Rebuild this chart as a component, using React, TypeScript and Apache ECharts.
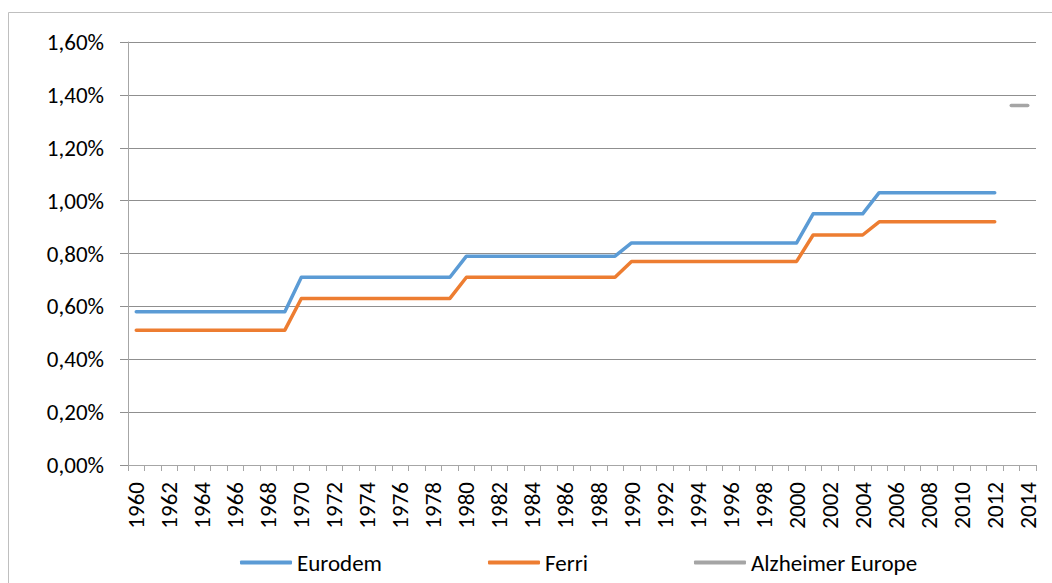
import React, { useEffect, useRef } from "react";
import * as echarts from "echarts";

const years: string[] = [];
for (let y = 1960; y <= 2014; y++) years.push(String(y));

// values in percent
const eurodem: (number | null)[] = [
  0.58, 0.58, 0.58, 0.58, 0.58, 0.58, 0.58, 0.58, 0.58, 0.58, // 1960-1969
  0.71, 0.71, 0.71, 0.71, 0.71, 0.71, 0.71, 0.71, 0.71, 0.71, // 1970-1979
  0.79, 0.79, 0.79, 0.79, 0.79, 0.79, 0.79, 0.79, 0.79, 0.79, // 1980-1989
  0.84, 0.84, 0.84, 0.84, 0.84, 0.84, 0.84, 0.84, 0.84, 0.84, 0.84, // 1990-2000
  0.95, 0.95, 0.95, 0.95, // 2001-2004
  1.03, 1.03, 1.03, 1.03, 1.03, 1.03, 1.03, 1.03, // 2005-2012
  null, null, // 2013-2014
];

const ferri: (number | null)[] = [
  0.51, 0.51, 0.51, 0.51, 0.51, 0.51, 0.51, 0.51, 0.51, 0.51,
  0.63, 0.63, 0.63, 0.63, 0.63, 0.63, 0.63, 0.63, 0.63, 0.63,
  0.71, 0.71, 0.71, 0.71, 0.71, 0.71, 0.71, 0.71, 0.71, 0.71,
  0.77, 0.77, 0.77, 0.77, 0.77, 0.77, 0.77, 0.77, 0.77, 0.77, 0.77,
  0.87, 0.87, 0.87, 0.87,
  0.92, 0.92, 0.92, 0.92, 0.92, 0.92, 0.92, 0.92,
  null, null,
];

const alzheimerEurope: (number | null)[] = [
  ...new Array(53).fill(null),
  1.36, 1.36,
];

const seriesNames = ["Eurodem", "Ferri", "Alzheimer Europe"];
const colors = ["#5B9BD5", "#ED7D31", "#A5A5A5"];

const FONT = "Calibri, Carlito, Lato, sans-serif";
const FS = 23;

export default function App() {
  const ref = useRef<HTMLDivElement>(null);
  useEffect(() => {
    if (!ref.current) return;
    const chart = echarts.init(ref.current, undefined, { renderer: "svg" });
    const mk = (name: string, data: (number | null)[], color: string) => ({
      name,
      type: "line",
      data,
      showSymbol: false,
      symbol: "none",
      connectNulls: false,
      lineStyle: { color, width: 3.5, cap: "round", join: "round" },
      itemStyle: { color },
    });
    chart.setOption({
      animation: false,
      textStyle: { fontFamily: FONT },
      graphic: [
        {
          type: "rect",
          shape: { x: 8.5, y: 12.5, width: 1200, height: 800 },
          style: { fill: "none", stroke: "#BFBFBF", lineWidth: 1 },
          silent: true,
        },
      ],
      grid: { left: 128, right: 16, top: 42, bottom: 118 },
      legend: {
        left: 235,
        top: 546,
        itemWidth: 52,
        itemHeight: 4,
        itemGap: 106,
        icon: "roundRect",
        data: seriesNames,
        textStyle: { fontFamily: FONT, fontSize: FS, color: "#000" },
      },
      xAxis: {
        type: "category",
        data: years,
        boundaryGap: true,
        axisLine: { show: true, lineStyle: { color: "#A6A6A6", width: 1 } },
        axisTick: {
          show: true,
          interval: 0,
          length: 6,
          lineStyle: { color: "#A6A6A6" },
        },
        axisLabel: {
          interval: 1,
          rotate: 90,
          margin: 17,
          fontFamily: FONT,
          fontSize: FS,
          color: "#000",
        },
        splitLine: { show: false },
      },
      yAxis: {
        type: "value",
        min: 0,
        max: 1.6,
        interval: 0.2,
        axisLine: { show: true, lineStyle: { color: "#A6A6A6", width: 1 } },
        axisTick: { show: true, length: 8, lineStyle: { color: "#8F8F8F" } },
        axisLabel: {
          margin: 24,
          fontFamily: FONT,
          fontSize: FS,
          color: "#000",
          formatter: (v: number) => v.toFixed(2).replace(".", ",") + "%",
        },
        splitLine: { show: true, lineStyle: { color: "#8F8F8F", width: 1 } },
      },
      series: [
        mk(seriesNames[0], eurodem, colors[0]),
        mk(seriesNames[1], ferri, colors[1]),
        mk(seriesNames[2], alzheimerEurope, colors[2]),
      ],
    });
    return () => chart.dispose();
  }, []);
  return (
    <div
      ref={ref}
      style={{ position: "absolute", left: 0, top: 0, width: 1052, height: 583 }}
    />
  );
}
